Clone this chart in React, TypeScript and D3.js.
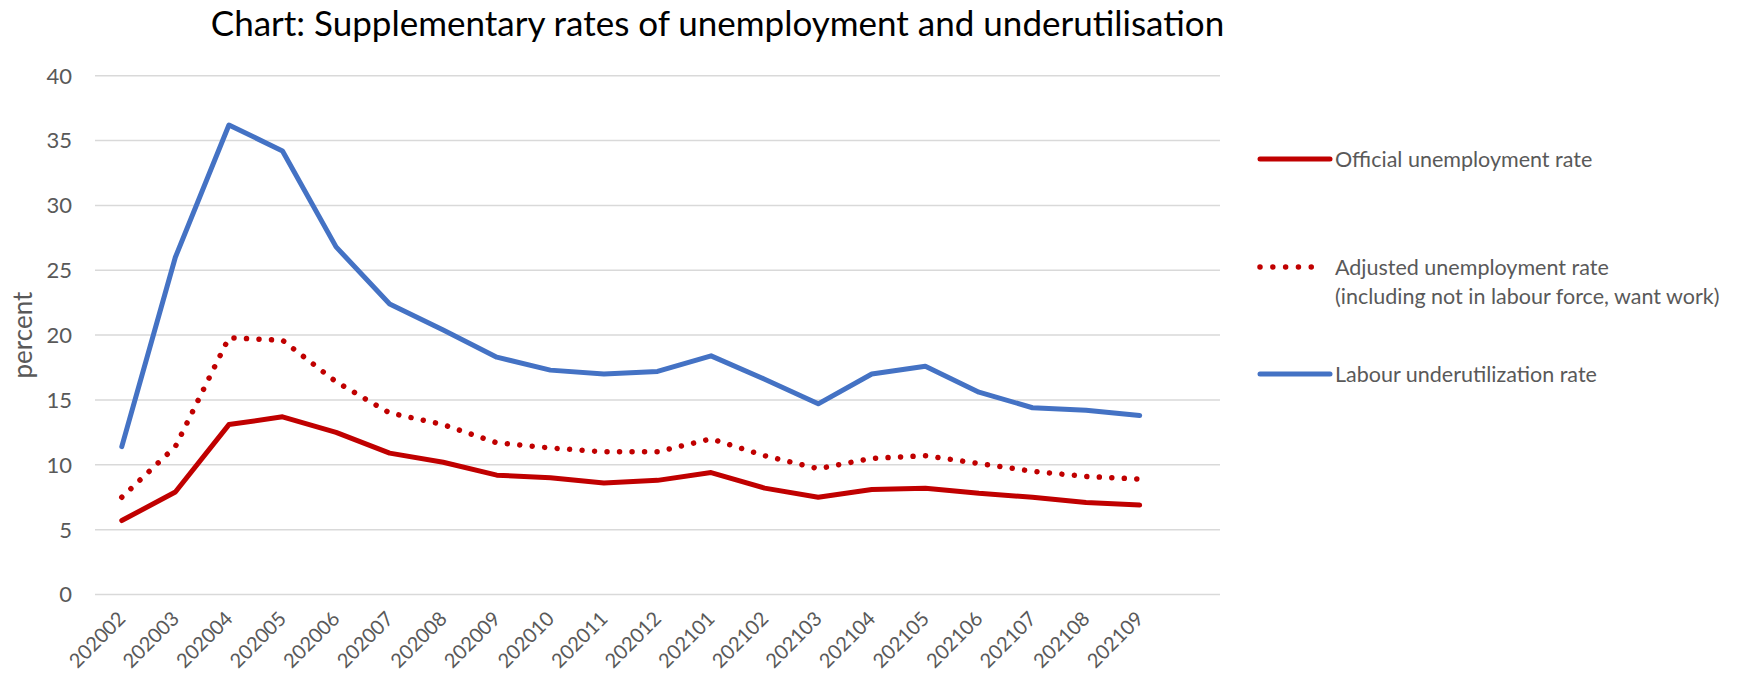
import React, { useEffect } from "react";
import * as d3 from "d3";

const categories = ["202002","202003","202004","202005","202006","202007","202008","202009","202010","202011","202012","202101","202102","202103","202104","202105","202106","202107","202108","202109"];
const official = [5.7,7.9,13.1,13.7,12.5,10.9,10.2,9.2,9.0,8.6,8.8,9.4,8.2,7.5,8.1,8.2,7.8,7.5,7.1,6.9];
const adjusted = [7.5,11.4,19.8,19.6,16.4,14.0,13.1,11.7,11.3,11.0,11.0,12.0,10.7,9.7,10.5,10.7,10.1,9.5,9.1,8.9];
const labour = [11.4,26.0,36.2,34.2,26.8,22.4,20.4,18.3,17.3,17.0,17.2,18.4,16.6,14.7,17.0,17.6,15.6,14.4,14.2,13.8];
const yTicks = [0,5,10,15,20,25,30,35,40];

const seriesList = [
  { name: "Official unemployment rate", sub: "", values: official, color: "#C00000", dotted: false },
  { name: "Adjusted unemployment rate", sub: "(including not in labour force, want work)", values: adjusted, color: "#C00000", dotted: true },
  { name: "Labour underutilization rate", sub: "", values: labour, color: "#4472C4", dotted: false },
];

const W = 1757, H = 677;
const FONT = "Lato, 'Open Sans', sans-serif";

export default function App() {
  useEffect(() => {
    document.body.style.margin = "0";
    document.body.style.overflow = "hidden";
  }, []);

  const x = d3.scaleBand<string>().domain([...categories, "__empty"]).range([95, 1220]);
  const cx = (c: string) => (x(c) as number) + x.bandwidth() / 2;
  const y = d3.scaleLinear().domain([0, 40]).range([594.5, 75.7]);
  const line = d3.line<number>().x((_, i) => cx(categories[i])).y((v) => y(v));

  const legendY = [159, 267, 374];

  return (
    <svg width={W} height={H} style={{ position: "absolute", left: 0, top: 0, background: "#fff" }} fontFamily={FONT}>
      <rect width={W} height={H} fill="#fff" />
      <text x={717.5} y={36} textAnchor="middle" fontSize={35} fill="#000">
        Chart: Supplementary rates of unemployment and underutilisation
      </text>
      {yTicks.map((t) => (
        <g key={t}>
          <line x1={95} x2={1220} y1={y(t)} y2={y(t)} stroke="#D9D9D9" strokeWidth={1.5} />
          <text x={72} y={y(t)} dy="0.36em" textAnchor="end" fontSize={22} fill="#595959">{t}</text>
        </g>
      ))}
      <text transform={`translate(32,${(y(0) + y(40)) / 2}) rotate(-90)`} textAnchor="middle" fontSize={26} fill="#595959">percent</text>
      {categories.map((c) => (
        <text key={c} transform={`translate(${cx(c) + 5},${620}) rotate(-45)`} textAnchor="end" fontSize={20} fill="#595959">{c}</text>
      ))}
      {seriesList.map((s) => (
        <path key={s.name} d={line(s.values) || ""} fill="none" stroke={s.color}
          strokeWidth={s.dotted ? 5.5 : 5} strokeLinejoin="round" strokeLinecap="round"
          strokeDasharray={s.dotted ? "0.01 12.5" : undefined} />
      ))}
      {seriesList.map((s, i) => (
        <g key={s.name}>
          <line x1={1260} x2={s.dotted ? 1324 : 1330} y1={legendY[i]} y2={legendY[i]} stroke={s.color}
            strokeWidth={s.dotted ? 5.5 : 5} strokeLinecap="round" strokeDasharray={s.dotted ? "0.01 12.8" : undefined} />
          <text x={1335} y={legendY[i]} dy="0.36em" fontSize={21.5} fill="#595959">{s.name}</text>
          {s.sub && <text x={1335} y={legendY[i] + 29} dy="0.36em" fontSize={21.5} fill="#595959">{s.sub}</text>}
        </g>
      ))}
    </svg>
  );
}
